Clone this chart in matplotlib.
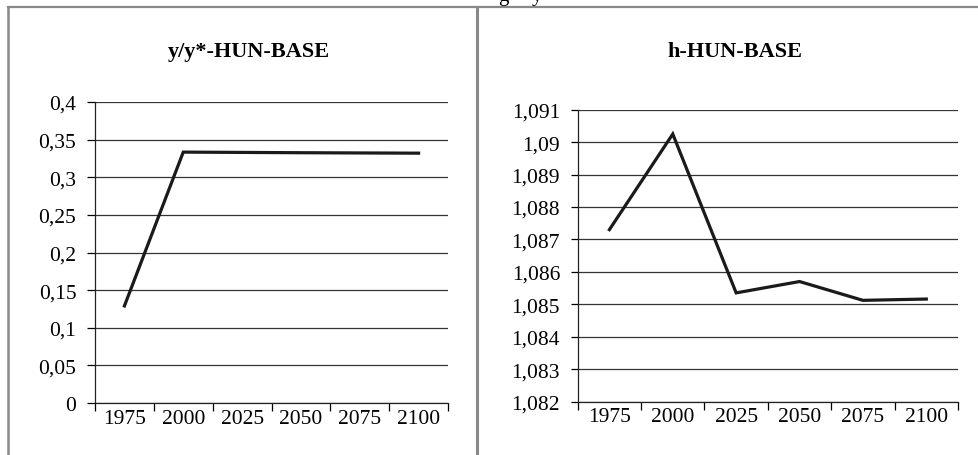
import matplotlib
matplotlib.use("Agg")
import matplotlib.pyplot as plt
from matplotlib.lines import Line2D
from matplotlib.ticker import FixedLocator, FuncFormatter

years = ["1975", "2000", "2025", "2050", "2075", "2100"]
yy_values = [0.129, 0.3334, 0.3330, 0.3326, 0.3323, 0.3320]
h_values = [1.08730, 1.09025, 1.08535, 1.08570, 1.08512, 1.08516]
left_title = "y/y*-HUN-BASE"
right_title = "h-HUN-BASE"
left_yticks = [0, 0.05, 0.1, 0.15, 0.2, 0.25, 0.3, 0.35, 0.4]
right_yticks = [1.082, 1.083, 1.084, 1.085, 1.086, 1.087, 1.088, 1.089, 1.09, 1.091]

plt.rcParams['font.family'] = ['Liberation Serif', 'DejaVu Serif']

fig = plt.figure(figsize=(9.79, 4.56), dpi=100)
W, H = 979, 456

def fmt(v, p):
    s = ('%.3f' % v).rstrip('0').rstrip('.')
    return s.replace('.', ',')

def make_ax(rect, values, yticks, ylim, ylen):
    x0, x1, ytop, ybot = rect
    ax = fig.add_axes([x0 / W, 1 - ybot / H, (x1 - x0) / W, (ybot - ytop) / H])
    xs = list(range(len(years)))
    ax.plot(xs, values, color='#1a1a1a', lw=2.3, solid_joinstyle='miter', zorder=3)
    ax.set_xlim(-0.5, len(years) - 0.5)
    ax.set_ylim(*ylim)
    ax.yaxis.set_major_locator(FixedLocator(yticks))
    ax.yaxis.set_major_formatter(FuncFormatter(fmt))
    ax.set_xticks([i - 0.5 for i in range(len(years) + 1)])
    ax.set_xticklabels([])
    ax.set_xticks(xs, minor=True)
    ax.set_xticklabels(years, minor=True)
    ax.tick_params(axis='x', which='minor', length=0, pad=4, labelsize=15.5)
    ax.tick_params(axis='x', which='major', length=6, width=0.9, direction='out')
    ax.tick_params(axis='y', length=ylen, width=0.9, direction='out', pad=7.5, labelsize=15.5)
    ax.grid(axis='y', color='#333333', lw=0.9)
    ax.set_axisbelow(True)
    for s in ['top', 'right']:
        ax.spines[s].set_visible(False)
    for s in ['left', 'bottom']:
        ax.spines[s].set_color('#222222')
        ax.spines[s].set_linewidth(0.9)
    ax.spines['bottom'].set_zorder(4)
    return ax

ax1 = make_ax((95, 448, 103, 404), yy_values, left_yticks, (0, 0.4), 6)
ax2 = make_ax((577.7, 958, 110.7, 402.5), h_values, right_yticks, (1.082, 1.091), 5.2)

fig.text(249 / W, 1 - 52 / H, left_title, ha='center', va='center', fontsize=16, fontweight='bold')
fig.text(735 / W, 1 - 52 / H, right_title, ha='center', va='center', fontsize=16, fontweight='bold')

# frame lines (table borders)
border = '#888888'
fig.add_artist(Line2D([8.5 / W, 1], [1 - 7.5 / H, 1 - 7.5 / H], color=border, lw=1.6, transform=fig.transFigure))
fig.add_artist(Line2D([8.5 / W, 8.5 / W], [0, 1 - 7.5 / H], color=border, lw=1.8, transform=fig.transFigure))
fig.add_artist(Line2D([477.5 / W, 477.5 / W], [0, 1 - 7.5 / H], color=border, lw=2.2, transform=fig.transFigure))

# clipped caption above the frame (only descenders visible in the reference)
fig.text(503 / W, 1 - 1.5 / H, "g", ha='center', va='baseline', fontsize=15)
fig.text(537 / W, 1 - 1.5 / H, "y", ha='center', va='baseline', fontsize=15)

fig.savefig("out.png", dpi=100)
